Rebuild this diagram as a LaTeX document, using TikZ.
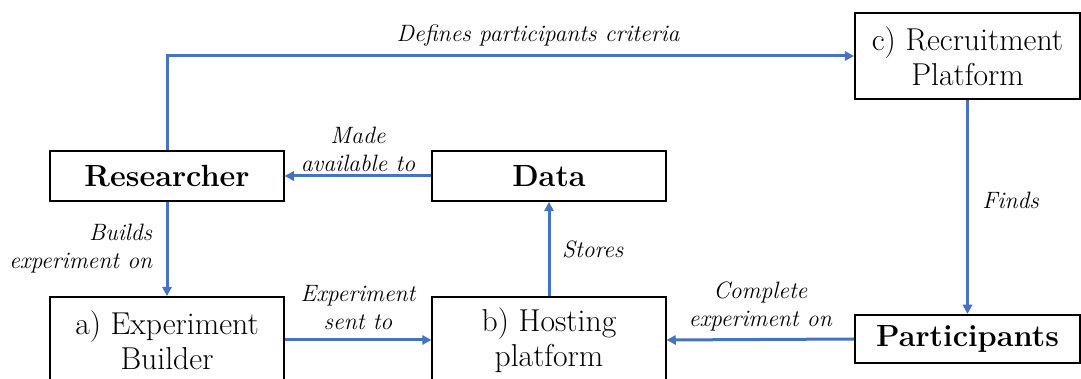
\documentclass[tikz,border=0pt]{standalone}
\usepackage{fontspec}
\usepackage{tikz}
\usetikzlibrary{shapes,arrows.meta,positioning}
\definecolor{flowblue}{HTML}{4472C4}
\tikzstyle{block} = [rectangle, minimum width=140pt, minimum height=30pt, align=center, draw=black, line width=1.1pt, font=\fontsize{19}{21}\selectfont, inner sep=2pt]
\tikzstyle{tallblock} = [block, minimum height=51.6pt]
\tikzstyle{keyblock} = [block, font=\fontsize{18.4}{21}\selectfont\bfseries]
\tikzstyle{arrow} = [draw=flowblue, line width=1.8pt, -{Triangle[length=5.5pt,width=5.5pt]}]
\tikzstyle{lbl} = [font=\fontsize{14.2}{16.8}\selectfont\itshape, align=center, inner sep=4pt]

\begin{document}
\begin{tikzpicture}[x=0.6pt, y=0.6pt]
	\useasboundingbox (0,0) rectangle (1081,379);
	\node (res) [keyblock] at (167,203) {Researcher};
	\node (data) [keyblock] at (549,203) {Data};
	\node (recruit) [tallblock, minimum width=135pt] at (967.5,323) {c) Recruitment\\Platform};
	\node (builder) [tallblock] at (167,39) {a) Experiment\\Builder};
	\node (hosting) [tallblock] at (549,39) {b) Hosting\\platform};
	\node (part) [keyblock, minimum width=135pt, minimum height=29pt] at (967.5,40) {Participants};
	\draw [arrow] (res.north) |- node[lbl, above, pos=0.77, yshift=1pt]{Defines participants criteria} (recruit.west);
	\draw [arrow] (data.west) -- node[lbl, above, yshift=-2.5pt]{Made\\available to} (res.east);
	\draw [arrow] (res.south) -- node[lbl, left, align=right, xshift=-4pt]{Builds\\experiment on} (builder.north);
	\draw [arrow] (builder.east) -- node[lbl, above, yshift=1pt]{Experiment\\sent to} (hosting.west);
	\draw [arrow] (hosting.north) -- node[lbl, right, xshift=3pt]{Stores} (data.south);
	\draw [arrow] (part.west) -- node[lbl, above]{Complete\\experiment on} (hosting.east);
	\draw [arrow] (recruit.south) -- node[lbl, right, xshift=4pt, yshift=4pt]{Finds} (part.north);
\end{tikzpicture}
\end{document}
